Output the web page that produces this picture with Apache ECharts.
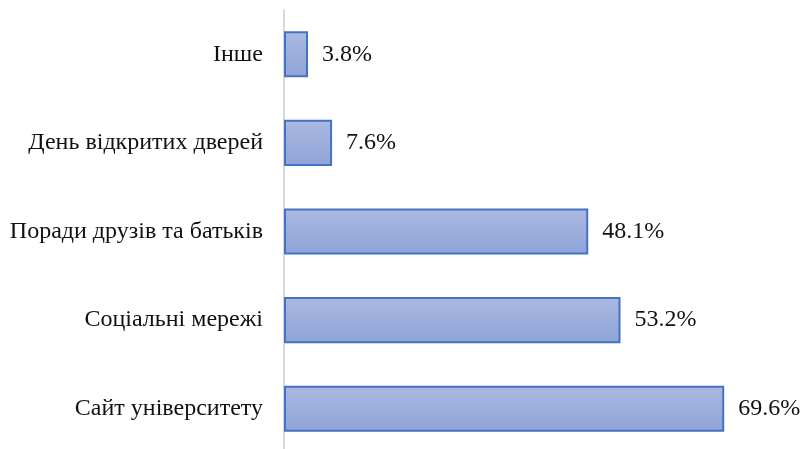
<!DOCTYPE html>
<html>
<head>
<meta charset="utf-8">
<script src="https://cdn.jsdelivr.net/npm/echarts@6/dist/echarts.min.js"></script>
<style>
  html, body { margin: 0; padding: 0; background: #fff; }
  #chart { width: 803px; height: 449px; }
</style>
</head>
<body>
<div id="chart"></div>
<script>
  // categories bottom to top
  var categories = ['Сайт університету', 'Соціальні мережі', 'Поради друзів та батьків', 'День відкритих дверей', 'Інше'];
  var shares = [69.6, 53.2, 48.1, 7.6, 3.8];

  var chart = echarts.init(document.getElementById('chart'));
  var option = {
    animation: false,
    grid: {
      left: 284,
      right: 13,
      top: 10,
      bottom: -4,
      outerBoundsMode: 'none'
    },
    xAxis: {
      type: 'value',
      min: 0,
      max: 80,
      show: false
    },
    yAxis: {
      type: 'category',
      data: categories,
      axisLine: { show: true, lineStyle: { color: '#d9d9d9', width: 2 } },
      axisTick: { show: false },
      axisLabel: {
        margin: 21,
        color: '#111',
        fontFamily: 'Liberation Serif',
        fontSize: 24
      }
    },
    series: [{
      type: 'bar',
      data: shares,
      barCategoryGap: '48%',
      itemStyle: {
        color: new echarts.graphic.LinearGradient(0, 0, 0, 1, [
          { offset: 0, color: '#abb9e1' },
          { offset: 1, color: '#8ea3d7' }
        ]),
        borderColor: '#4472c4',
        borderWidth: 2
      },
      label: {
        show: true,
        position: 'right',
        distance: 14,
        color: '#111',
        fontFamily: 'Liberation Serif',
        fontSize: 24,
        formatter: function (p) { return p.value.toFixed(1) + '%'; }
      }
    }]
  };
  chart.setOption(option);
</script>
</body>
</html>
